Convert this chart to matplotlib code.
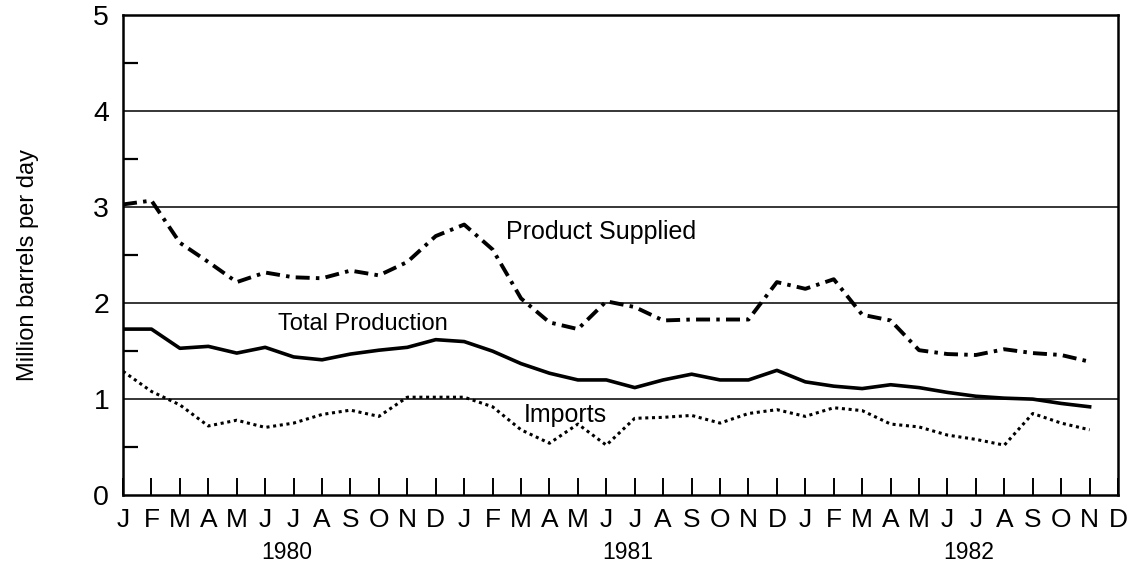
import numpy as np
import matplotlib
matplotlib.use("Agg")
import matplotlib.pyplot as plt

plt.rcParams['font.family'] = ['Liberation Sans', 'DejaVu Sans']

# Monthly data, Jan 1980 - Nov 1982 (million barrels per day)
product_supplied = [3.03, 3.07, 2.63, 2.43, 2.22, 2.32, 2.27, 2.26, 2.34, 2.29, 2.43, 2.70,
                    2.82, 2.56, 2.05, 1.80, 1.73, 2.02, 1.96, 1.82, 1.83, 1.83, 1.83, 2.22,
                    2.15, 2.25, 1.88, 1.82, 1.51, 1.47, 1.46, 1.52, 1.48, 1.46, 1.39]
total_production = [1.73, 1.73, 1.53, 1.55, 1.48, 1.54, 1.44, 1.41, 1.47, 1.51, 1.54, 1.62,
                    1.60, 1.50, 1.37, 1.27, 1.20, 1.20, 1.12, 1.20, 1.26, 1.20, 1.20, 1.30,
                    1.18, 1.135, 1.11, 1.15, 1.12, 1.07, 1.03, 1.01, 1.00, 0.955, 0.92]
imports = [1.29, 1.08, 0.94, 0.72, 0.78, 0.705, 0.75, 0.84, 0.885, 0.82, 1.02, 1.02,
           1.02, 0.92, 0.68, 0.54, 0.74, 0.52, 0.80, 0.81, 0.83, 0.75, 0.85, 0.89,
           0.82, 0.91, 0.88, 0.74, 0.71, 0.625, 0.58, 0.52, 0.85, 0.75, 0.68]
month_labels = list("JFMAMJJASOND") * 3
years = ["1980", "1981", "1982"]

fig = plt.figure(figsize=(11.36, 5.69), dpi=100)
ax = fig.add_axes([0.1083, 0.130, 0.9842 - 0.1083, 0.9728 - 0.130])

x = np.arange(len(product_supplied))
ax.plot(x, product_supplied, color='black', lw=2.8, linestyle=(0, (3.6, 1.6, 0.9, 1.6)),
        dash_capstyle='butt')
ax.plot(x, total_production, color='black', lw=2.6, solid_joinstyle='round')
ax.plot(x, imports, color='black', lw=2.2, linestyle=(0, (1, 1.2)))

ax.set_xlim(0, 35)
ax.set_ylim(0, 5)

for yv in [1, 2, 3, 4]:
    ax.axhline(yv, color='black', lw=1.1, zorder=1)

for s in ax.spines.values():
    s.set_linewidth(1.8)

ax.set_yticks([0, 1, 2, 3, 4, 5])
ax.set_yticks([0.5, 1.5, 2.5, 3.5, 4.5], minor=True)
ax.tick_params(axis='y', which='major', length=0, pad=10, labelsize=20.5)
ax.tick_params(axis='y', which='minor', direction='in', length=11, width=1.6)

ax.set_xticks(np.arange(36))
ax.set_xticklabels(month_labels)
ax.tick_params(axis='x', which='major', direction='in', length=12, width=1.4,
               pad=9, labelsize=19)
for t in ax.xaxis.get_major_ticks():
    t.tick2line.set_visible(False)
ax.set_xticks([12, 24], minor=True)
ax.tick_params(axis='x', which='minor', direction='in', length=25, width=1.4)

for i, yr in enumerate(years):
    ax.text(5.75 + 12 * i, -0.119, yr, transform=ax.get_xaxis_transform(),
            ha='center', va='center', fontsize=16.5)

ax.text(13.48, 2.74, "Product Supplied", ha='left', va='center', fontsize=18)
ax.text(5.45, 1.78, "Total Production", ha='left', va='center', fontsize=17)
ax.text(14.1, 0.83, "Imports", ha='left', va='center', fontsize=18)

fig.text(28 / 1136, 1 - 265 / 569, "Million barrels per day", rotation=90,
         ha='center', va='center', fontsize=17)

fig.savefig("out.png", dpi=100)
